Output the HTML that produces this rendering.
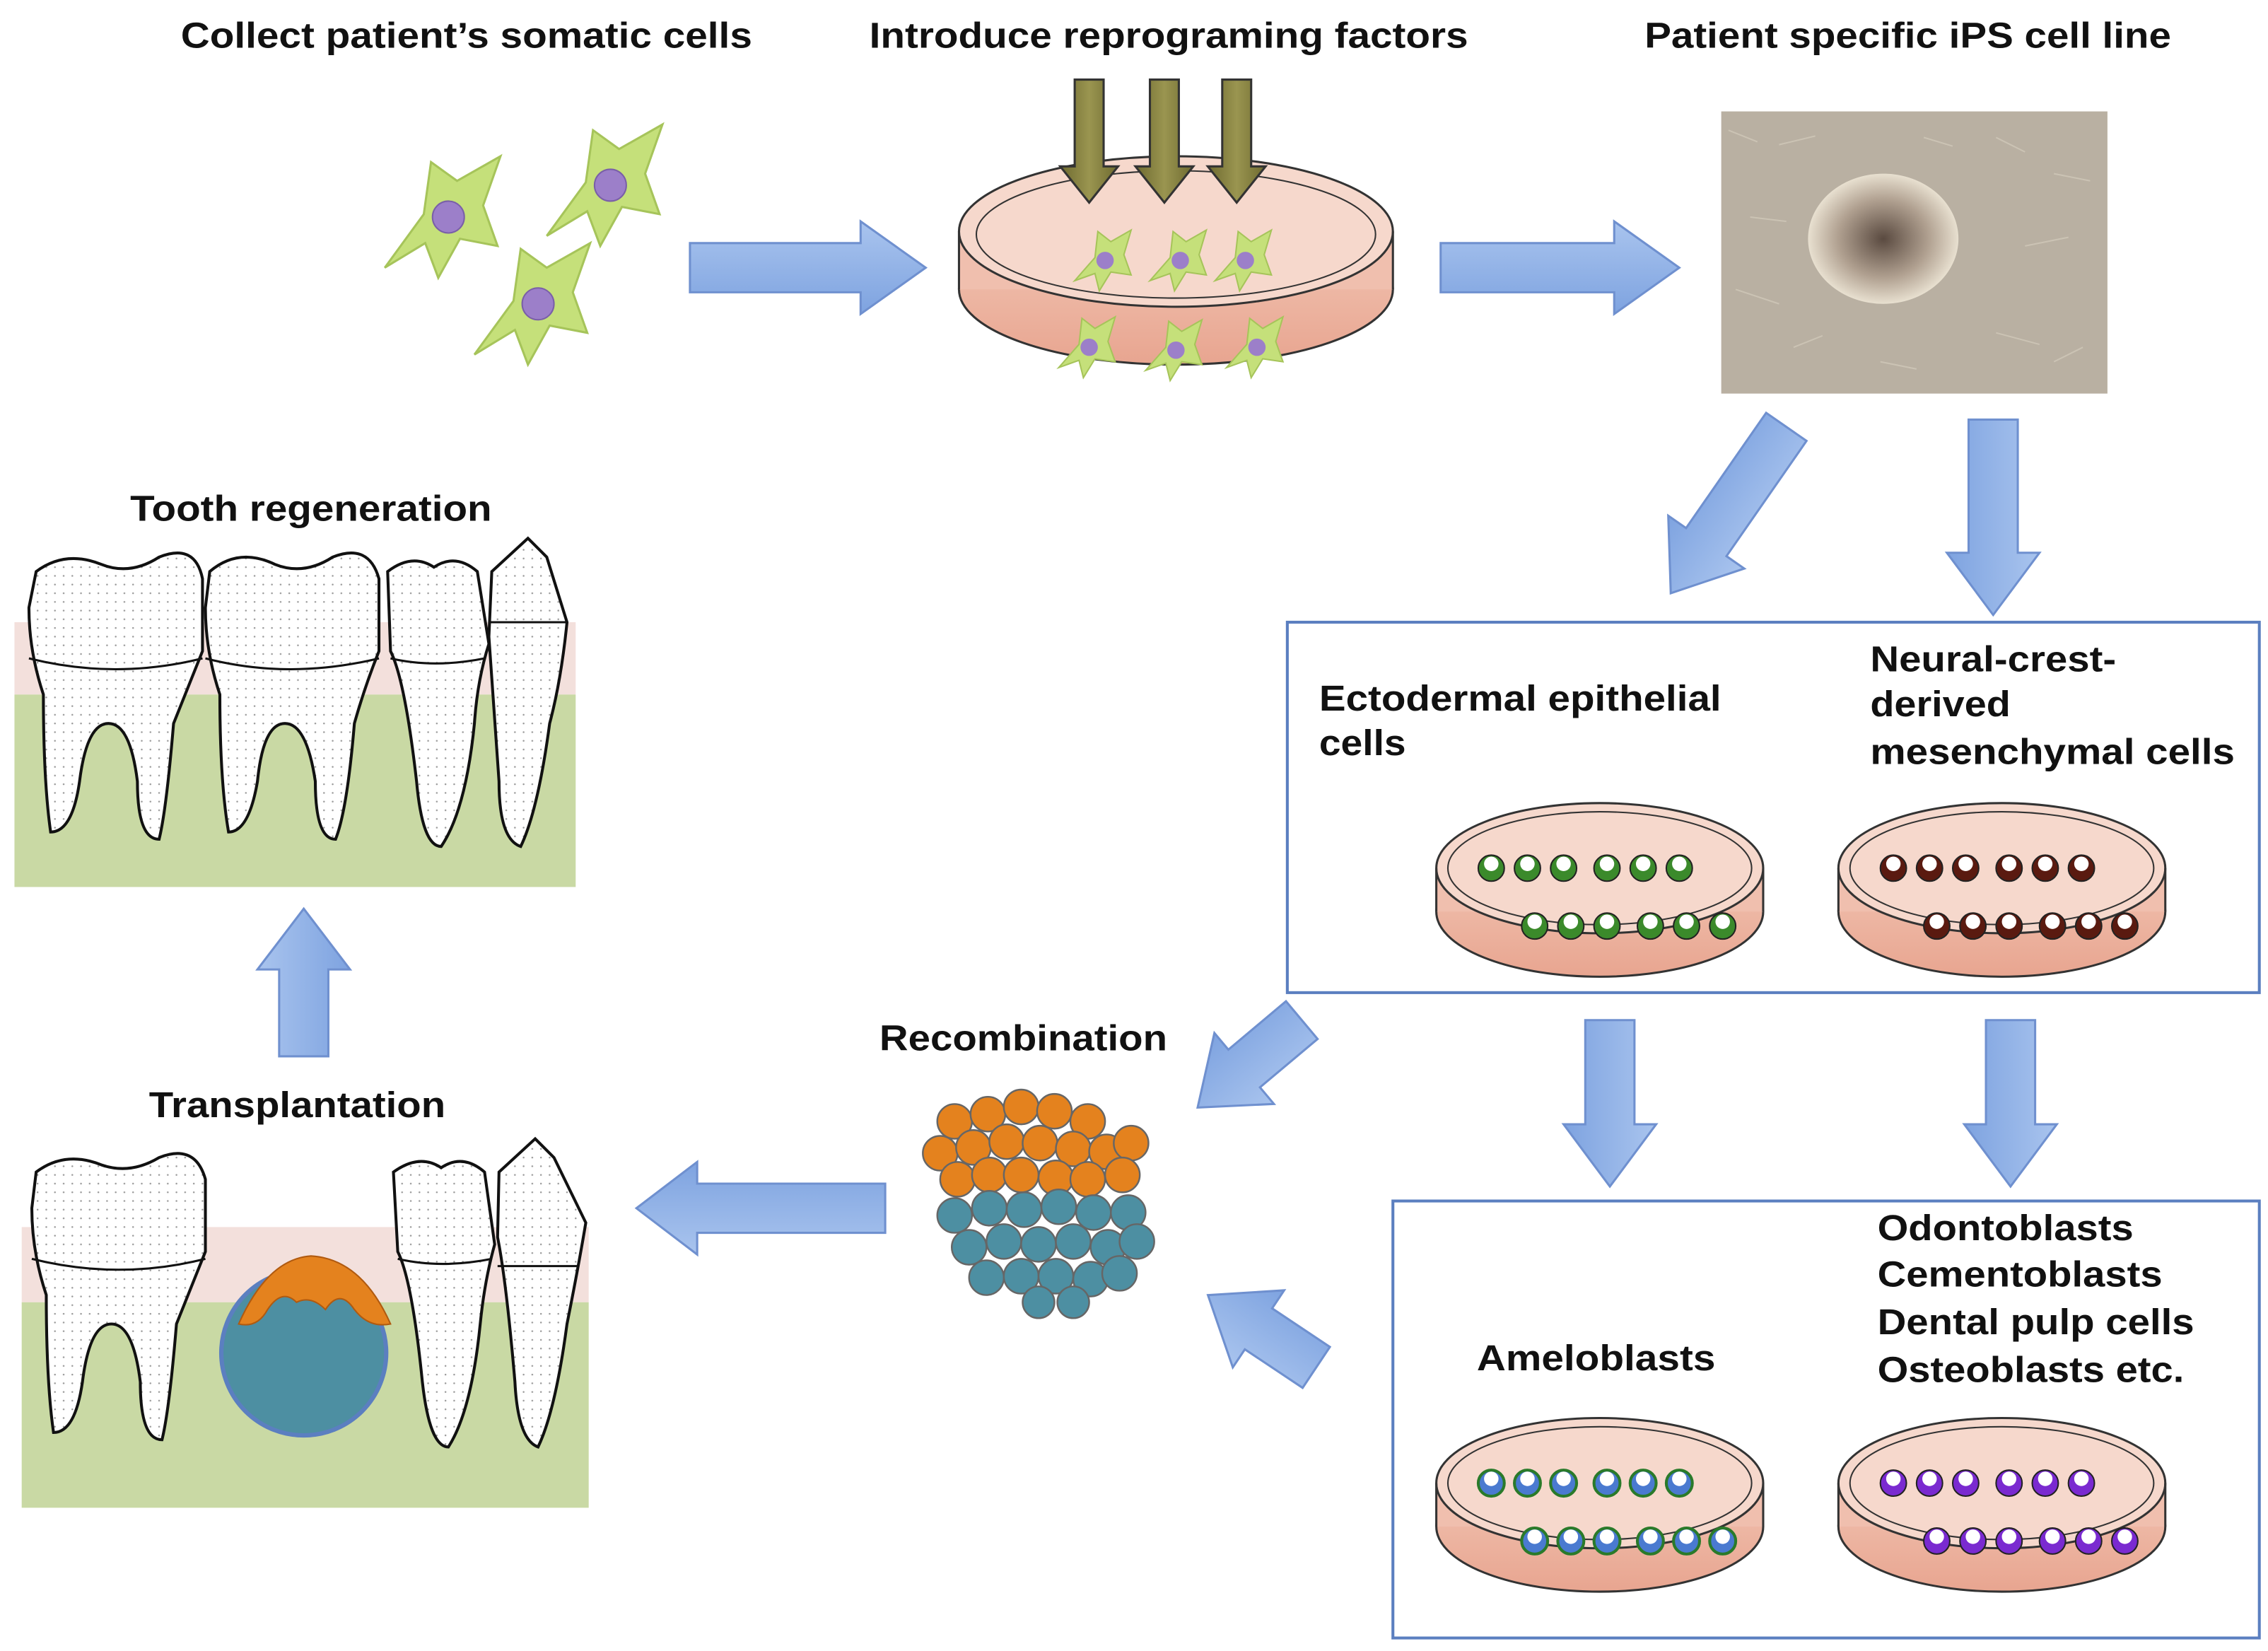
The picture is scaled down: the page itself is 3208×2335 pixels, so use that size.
<!DOCTYPE html>
<html><head><meta charset="utf-8"><style>
html,body{margin:0;padding:0;background:#fff}
svg{display:block}
text{font-family:"Liberation Sans",Arial,sans-serif;font-weight:bold;fill:#111}
</style></head><body>
<svg width="3208" height="2335" viewBox="0 0 1568 1141" preserveAspectRatio="none" xmlns="http://www.w3.org/2000/svg">
<defs>
<linearGradient id="ag" x1="0" y1="0" x2="0" y2="1"><stop offset="0" stop-color="#a9c4ee"/><stop offset="1" stop-color="#7ea3e0"/></linearGradient>
<linearGradient id="og" x1="0" y1="0" x2="1" y2="0"><stop offset="0" stop-color="#6e6a30"/><stop offset="0.5" stop-color="#9a9550"/><stop offset="1" stop-color="#6e6a30"/></linearGradient>
<radialGradient id="col" cx="0.5" cy="0.5" r="0.5"><stop offset="0" stop-color="#5a4a40"/><stop offset="0.6" stop-color="#b0a090"/><stop offset="1" stop-color="#e8e0d0"/></radialGradient>
<linearGradient id="dish" x1="0" y1="0" x2="0" y2="1"><stop offset="0" stop-color="#f3c9b8"/><stop offset="1" stop-color="#e8a590"/></linearGradient>
<pattern id="dots" width="6" height="6" patternUnits="userSpaceOnUse"><rect width="6" height="6" fill="#fff"/><circle cx="2" cy="2" r="0.6" fill="#999"/></pattern>
<g id="cell"><path d="M-42,35 L-15,-2 L-10,-38 L8,-25 L38,-42 L26,-8 L36,20 L10,15 L-5,42 L-14,18 Z" fill="#c5e07a" stroke="#a6c45a" stroke-width="1.5"/><circle cx="2" cy="0" r="11" fill="#9c7fc9" stroke="#7a5fa8"/></g>
<g id="scell"><path d="M-20,14 L-6,-2 L-4,-20 L5,-13 L19,-21 L14,-4 L19,10 L5,8 L-3,21 L-6,9 Z" fill="#c5e07a" stroke="#a6c45a"/><circle cx="1" cy="0" r="6" fill="#9c7fc9"/></g>
<g id="dg"><circle r="9" fill="#3b8a2b" stroke="#222"/><circle cx="0" cy="-3" r="5" fill="#fff"/></g>
<g id="dr"><circle r="9" fill="#5a1a10" stroke="#222"/><circle cx="0" cy="-3" r="5" fill="#fff"/></g>
<g id="db"><circle r="9" fill="#4a7ad0" stroke="#2a7a2a" stroke-width="2"/><circle cx="0" cy="-3" r="5" fill="#fff"/></g>
<g id="dp"><circle r="9" fill="#7a2ad0" stroke="#222"/><circle cx="0" cy="-3" r="5" fill="#fff"/></g>
<g id="sdish"><ellipse cx="0" cy="15" rx="113" ry="45" fill="url(#dish)" stroke="#333" stroke-width="1.5"/><rect x="-113" y="-15" width="226" height="30" fill="#f0bfae"/><ellipse cx="0" cy="-15" rx="113" ry="45" fill="#f6d8cc" stroke="#333" stroke-width="1.5"/><ellipse cx="0" cy="-15" rx="105" ry="39" fill="none" stroke="#333"/><line x1="-113" y1="-15" x2="-113" y2="15" stroke="#333" stroke-width="1.5"/><line x1="113" y1="-15" x2="113" y2="15" stroke="#333" stroke-width="1.5"/></g>
</defs>

<!-- titles -->
<g font-size="25">
<text x="125" y="33" textLength="395" lengthAdjust="spacingAndGlyphs">Collect patient’s somatic cells</text>
<text x="601" y="33" textLength="414" lengthAdjust="spacingAndGlyphs">Introduce reprograming factors</text>
<text x="1137" y="33" textLength="364" lengthAdjust="spacingAndGlyphs">Patient specific iPS cell line</text>
<text x="90" y="360" textLength="250" lengthAdjust="spacingAndGlyphs">Tooth regeneration</text>
<text x="103" y="772" textLength="205" lengthAdjust="spacingAndGlyphs">Transplantation</text>
<text x="608" y="726" textLength="199" lengthAdjust="spacingAndGlyphs">Recombination</text>
<text x="912" y="491" textLength="278" lengthAdjust="spacingAndGlyphs">Ectodermal epithelial</text>
<text x="912" y="522" textLength="60" lengthAdjust="spacingAndGlyphs">cells</text>
<text x="1293" y="464" textLength="170" lengthAdjust="spacingAndGlyphs">Neural-crest-</text>
<text x="1293" y="495" textLength="97" lengthAdjust="spacingAndGlyphs">derived</text>
<text x="1293" y="528" textLength="252" lengthAdjust="spacingAndGlyphs">mesenchymal cells</text>
<text x="1298" y="857" textLength="177" lengthAdjust="spacingAndGlyphs">Odontoblasts</text>
<text x="1298" y="889" textLength="197" lengthAdjust="spacingAndGlyphs">Cementoblasts</text>
<text x="1298" y="922" textLength="219" lengthAdjust="spacingAndGlyphs">Dental pulp cells</text>
<text x="1298" y="955" textLength="212" lengthAdjust="spacingAndGlyphs">Osteoblasts etc.</text>
<text x="1021" y="947" textLength="165" lengthAdjust="spacingAndGlyphs">Ameloblasts</text>
</g>

<!-- somatic cells -->
<use href="#cell" transform="translate(308,150)"/>
<use href="#cell" transform="translate(420,128)"/>
<use href="#cell" transform="translate(370,210)"/>

<!-- arrows -->
<g fill="url(#ag)" stroke="#6f90cf" stroke-width="1.5">
<polygon transform="translate(477,185)" points="0,-17 118,-17 118,-32 163,0 118,32 118,17 0,17"/>
<polygon transform="translate(996,185)" points="0,-17 120,-17 120,-32 165,0 120,32 120,17 0,17"/>
<polygon transform="translate(1235,295) rotate(124.8)" points="0,-17 97,-17 97,-32 140,0 97,32 97,17 0,17"/>
<polygon transform="translate(1378,290) rotate(90)" points="0,-17 92,-17 92,-32 135,0 92,32 92,17 0,17"/>
<polygon transform="translate(1113,705) rotate(90)" points="0,-17 72,-17 72,-32 115,0 72,32 72,17 0,17"/>
<polygon transform="translate(1390,705) rotate(90)" points="0,-17 72,-17 72,-32 115,0 72,32 72,17 0,17"/>
<polygon transform="translate(900,705) rotate(140)" points="0,-17 52,-17 52,-32 94,0 52,32 52,17 0,17"/>
<polygon transform="translate(910,945) rotate(213.7)" points="0,-17 48,-17 48,-32 90,0 48,32 48,17 0,17"/>
<polygon transform="translate(612,835) rotate(180)" points="0,-17 130,-17 130,-32 172,0 130,32 130,17 0,17"/>
<polygon transform="translate(210,730) rotate(-90)" points="0,-17 60,-17 60,-32 102,0 60,32 60,17 0,17"/>
</g>

<!-- big dish -->
<ellipse cx="813" cy="200" rx="150" ry="52" fill="url(#dish)" stroke="#333" stroke-width="1.5"/>
<rect x="663" y="160" width="300" height="40" fill="#f0bfae"/>
<ellipse cx="813" cy="160" rx="150" ry="52" fill="#f6d8cc" stroke="#333" stroke-width="1.5"/>
<ellipse cx="813" cy="162" rx="138" ry="44" fill="none" stroke="#333"/>
<line x1="663" y1="160" x2="663" y2="200" stroke="#333" stroke-width="1.5"/>
<line x1="963" y1="160" x2="963" y2="200" stroke="#333" stroke-width="1.5"/>
<use href="#scell" transform="translate(763,180)"/><use href="#scell" transform="translate(815,180)"/><use href="#scell" transform="translate(860,180)"/>
<use href="#scell" transform="translate(752,240)"/><use href="#scell" transform="translate(812,242)"/><use href="#scell" transform="translate(868,240)"/>
<g fill="url(#og)" stroke="#333" stroke-width="1.5">
<polygon points="743,55 763,55 763,115 773,115 753,140 733,115 743,115"/>
<polygon points="795,55 815,55 815,115 825,115 805,140 785,115 795,115"/>
<polygon points="845,55 865,55 865,115 875,115 855,140 835,115 845,115"/>
</g>

<!-- photo -->
<rect x="1190" y="77" width="267" height="195" fill="#b9b0a2"/>
<g stroke="#d8d0c0" stroke-width="1" opacity="0.6">
<path d="M1195,90 l20,8 M1230,100 l25,-6 M1380,95 l20,10 M1420,120 l25,5 M1200,200 l30,10 M1240,240 l20,-8 M1380,230 l30,8 M1420,250 l20,-10 M1210,150 l25,3 M1400,170 l30,-6 M1300,250 l25,5 M1330,95 l20,6"/>
</g>
<ellipse cx="1302" cy="165" rx="52" ry="45" fill="url(#col)"/>

<!-- boxes -->
<rect x="890" y="430" width="672" height="256" fill="none" stroke="#5b7fc0" stroke-width="2"/>
<rect x="963" y="830" width="599" height="302" fill="none" stroke="#5b7fc0" stroke-width="2"/>

<!-- small dishes with dots -->
<g transform="translate(1106,615)"><use href="#sdish"/>
<g><use href="#dg" x="-75" y="-15"/><use href="#dg" x="-50" y="-15"/><use href="#dg" x="-25" y="-15"/><use href="#dg" x="5" y="-15"/><use href="#dg" x="30" y="-15"/><use href="#dg" x="55" y="-15"/>
<use href="#dg" x="-45" y="25"/><use href="#dg" x="-20" y="25"/><use href="#dg" x="5" y="25"/><use href="#dg" x="35" y="25"/><use href="#dg" x="60" y="25"/><use href="#dg" x="85" y="25"/></g></g>
<g transform="translate(1384,615)"><use href="#sdish"/>
<g><use href="#dr" x="-75" y="-15"/><use href="#dr" x="-50" y="-15"/><use href="#dr" x="-25" y="-15"/><use href="#dr" x="5" y="-15"/><use href="#dr" x="30" y="-15"/><use href="#dr" x="55" y="-15"/>
<use href="#dr" x="-45" y="25"/><use href="#dr" x="-20" y="25"/><use href="#dr" x="5" y="25"/><use href="#dr" x="35" y="25"/><use href="#dr" x="60" y="25"/><use href="#dr" x="85" y="25"/></g></g>
<g transform="translate(1106,1040)"><use href="#sdish"/>
<g><use href="#db" x="-75" y="-15"/><use href="#db" x="-50" y="-15"/><use href="#db" x="-25" y="-15"/><use href="#db" x="5" y="-15"/><use href="#db" x="30" y="-15"/><use href="#db" x="55" y="-15"/>
<use href="#db" x="-45" y="25"/><use href="#db" x="-20" y="25"/><use href="#db" x="5" y="25"/><use href="#db" x="35" y="25"/><use href="#db" x="60" y="25"/><use href="#db" x="85" y="25"/></g></g>
<g transform="translate(1384,1040)"><use href="#sdish"/>
<g><use href="#dp" x="-75" y="-15"/><use href="#dp" x="-50" y="-15"/><use href="#dp" x="-25" y="-15"/><use href="#dp" x="5" y="-15"/><use href="#dp" x="30" y="-15"/><use href="#dp" x="55" y="-15"/>
<use href="#dp" x="-45" y="25"/><use href="#dp" x="-20" y="25"/><use href="#dp" x="5" y="25"/><use href="#dp" x="35" y="25"/><use href="#dp" x="60" y="25"/><use href="#dp" x="85" y="25"/></g></g>

<!-- cluster -->
<g stroke="#666" stroke-width="1.2">
<g fill="#e4821e">
<circle cx="660" cy="775" r="12"/><circle cx="683" cy="770" r="12"/><circle cx="706" cy="765" r="12"/><circle cx="729" cy="768" r="12"/><circle cx="752" cy="775" r="12"/>
<circle cx="650" cy="797" r="12"/><circle cx="673" cy="793" r="12"/><circle cx="696" cy="789" r="12"/><circle cx="719" cy="790" r="12"/><circle cx="742" cy="794" r="12"/><circle cx="765" cy="796" r="12"/><circle cx="782" cy="790" r="12"/>
<circle cx="662" cy="815" r="12"/><circle cx="684" cy="812" r="12"/><circle cx="706" cy="812" r="12"/><circle cx="730" cy="814" r="12"/><circle cx="752" cy="815" r="12"/><circle cx="776" cy="812" r="12"/>
</g>
<g fill="#4d8fa2">
<circle cx="660" cy="840" r="12"/><circle cx="684" cy="835" r="12"/><circle cx="708" cy="836" r="12"/><circle cx="732" cy="834" r="12"/><circle cx="756" cy="838" r="12"/><circle cx="780" cy="838" r="12"/>
<circle cx="670" cy="862" r="12"/><circle cx="694" cy="858" r="12"/><circle cx="718" cy="860" r="12"/><circle cx="742" cy="858" r="12"/><circle cx="766" cy="862" r="12"/><circle cx="786" cy="858" r="12"/>
<circle cx="682" cy="883" r="12"/><circle cx="706" cy="882" r="12"/><circle cx="730" cy="882" r="12"/><circle cx="754" cy="884" r="12"/><circle cx="774" cy="880" r="12"/>
<circle cx="718" cy="900" r="11"/><circle cx="742" cy="900" r="11"/>
</g></g>

<!-- tooth regeneration panel -->
<rect x="10" y="430" width="388" height="50" fill="#f3e0dc"/>
<rect x="10" y="480" width="388" height="133" fill="#c9d9a4"/>
<g fill="url(#dots)" stroke="#111" stroke-width="2">
<path d="M25,395 Q45,380 70,390 Q90,398 110,385 Q135,375 140,400 L140,450 Q130,475 120,500 Q115,560 110,580 Q95,580 95,540 Q90,500 75,500 Q60,500 55,540 Q50,575 35,575 Q30,540 30,480 Q20,450 20,420 Z"/>
<path d="M145,395 Q165,378 190,390 Q210,398 230,385 Q255,375 262,400 L262,450 Q252,475 245,500 Q240,560 232,580 Q218,580 218,540 Q212,500 197,500 Q182,500 178,540 Q172,575 158,575 Q152,540 152,480 Q142,450 142,420 Z"/>
<path d="M268,395 Q285,382 300,392 Q315,382 330,395 L338,445 Q330,470 328,500 Q322,560 305,585 Q292,585 288,540 Q280,470 270,450 Z"/>
<path d="M340,395 L365,372 L378,385 L392,430 Q388,470 380,500 Q372,560 360,585 Q345,580 345,540 Q340,470 338,440 Z"/>
</g>
<g stroke="#111" stroke-width="1.5" fill="none"><path d="M20,455 Q80,470 140,455"/><path d="M142,455 Q200,470 262,455"/><path d="M270,455 Q300,462 335,455"/><path d="M338,430 L392,430"/></g>

<!-- transplantation panel -->
<rect x="15" y="848" width="392" height="52" fill="#f3e0dc"/>
<rect x="15" y="900" width="392" height="142" fill="#c9d9a4"/>
<g fill="url(#dots)" stroke="#111" stroke-width="2">
<path d="M25,810 Q45,795 70,805 Q90,812 110,800 Q135,790 142,815 L142,865 Q132,890 122,915 Q117,975 112,995 Q97,995 97,955 Q92,915 77,915 Q62,915 57,955 Q52,990 37,990 Q32,955 32,895 Q22,865 22,835 Z"/>
<path d="M272,810 Q290,797 305,807 Q320,797 335,810 L342,860 Q335,885 332,915 Q326,975 310,1000 Q297,1000 292,955 Q285,885 275,865 Z"/>
<path d="M345,810 L370,787 L383,800 L405,845 Q400,875 392,915 Q384,975 372,1000 Q358,995 356,955 Q350,885 344,855 Z"/>
</g>
<g stroke="#111" stroke-width="1.5" fill="none"><path d="M22,870 Q82,885 142,870"/><path d="M275,870 Q305,877 340,870"/><path d="M344,875 L400,875"/></g>
<circle cx="210" cy="935" r="57" fill="#4d8fa2" stroke="#5b7fc0" stroke-width="3"/>
<path d="M165,915 Q185,870 215,868 Q250,870 270,915 Q255,918 245,905 Q235,890 225,905 Q215,895 205,900 Q195,890 185,905 Q178,918 165,915 Z" fill="#e4821e" stroke="#b05a10"/>
</svg>
</body></html>
